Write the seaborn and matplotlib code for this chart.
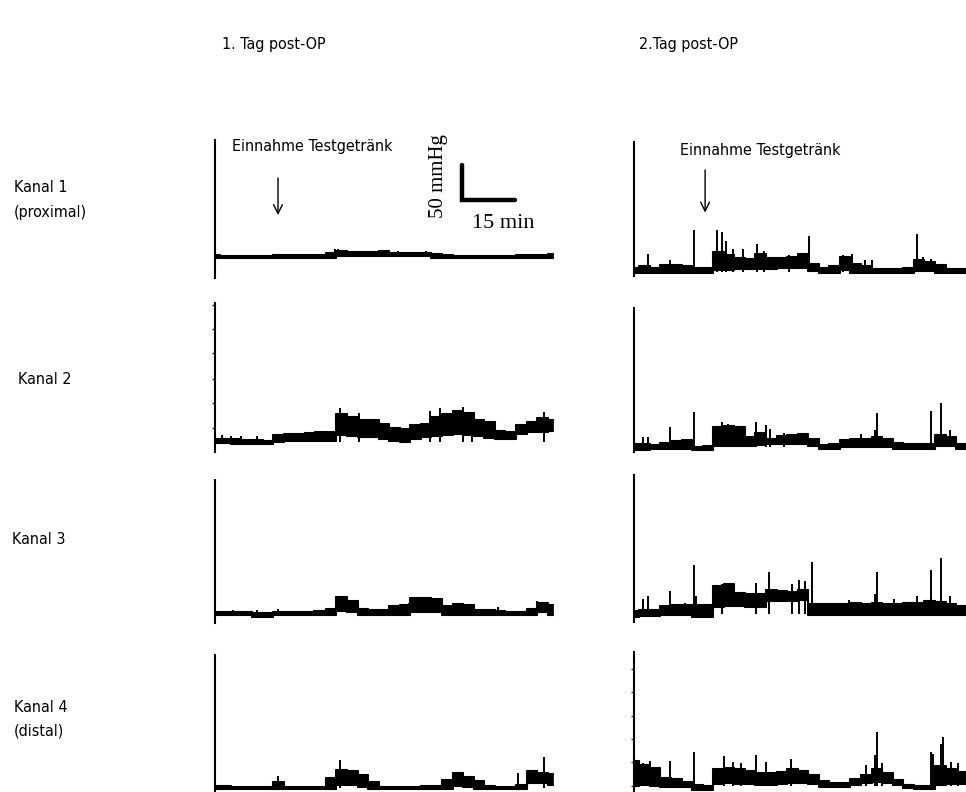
import numpy as np
import pandas as pd
import seaborn as sns
import matplotlib.pyplot as plt
from matplotlib import font_manager

# ---- data (mmHg above baseline; time in minutes) ----
t = list(range(0, 97, 3))

k1_d1_hi = [3, 2, 2, 2, 2, 2, 3, 3, 3, 3, 3, 6, 8, 7, 7, 7, 8, 6, 6, 6, 6, 5, 3, 2, 2, 2, 2, 2, 2, 3, 3, 3, 4]
k1_d1_lo = [-1, -1, -1, -1, -1, -1, -1, -1, -1, -1, -1, -1, 1, 1, 1, 1, 1, 1, 1, 1, 1, -1, -1, -1, -1, -1, -1, -1, -1, -1, -1, -1, -1]
k1_d1_sp = [(34.2, 11), (35.0, 11), (52, 9), (60, 8)]

k1_d2_hi = [6, 8, 6, 10, 10, 8, 6, 6, 28, 25, 20, 18, 26, 20, 20, 22, 26, 12, 6, 8, 22, 12, 8, 5, 5, 5, 6, 17, 15, 10, 5, 5, 5]
k1_d2_lo = [-2, -2, -2, -2, -2, -2, -2, -2, 3, 3, 4, 4, 5, 5, 6, 6, 6, 2, -2, -2, 3, -2, -2, -2, -2, -2, -2, 1, 1, -2, -2, -2, -2]
k1_d2_sp = [(4.1, 26), (10.2, 17), (17.0, 60), (23.5, 60), (24.9, 57), (26, 45), (28.2, 33), (31.0, 33),
            (34.9, 40), (37, 30), (44, 25), (49.7, 52), (59.5, 24), (62, 26), (65.5, 17), (67.5, 17),
            (80.3, 55), (82, 22), (84.5, 18)]

k2_d1_hi = [5, 4, 4, 3, 3, 2, 10, 12, 12, 13, 14, 14, 40, 36, 32, 32, 26, 20, 18, 24, 26, 36, 40, 44, 42, 32, 28, 16, 14, 24, 28, 34, 32]
k2_d1_lo = [-2, -2, -3, -3, -3, -3, 0, 1, 1, 1, 2, 2, 10, 8, 7, 7, 4, 2, 0, 5, 7, 8, 10, 12, 10, 8, 6, 4, 4, 12, 14, 14, 16]
k2_d1_sp = [(2, 10), (4.5, 9), (7.5, 9), (12, 8), (35.5, 48), (41, 42), (61, 44), (64, 48), (70.5, 50), (73, 42), (93.5, 43)]

k2_d2_hi = [4, 4, 3, 6, 8, 10, 0, 2, 28, 30, 28, 14, 20, 12, 16, 17, 18, 12, 3, 4, 10, 12, 12, 14, 12, 6, 4, 4, 5, 17, 15, 5, 4]
k2_d2_lo = [-4, -4, -3, -3, -3, -3, -5, -4, 2, 2, 2, 2, 3, 4, 5, 5, 5, 2, -3, -3, 0, 0, 0, 0, 0, -3, -3, -3, -3, 1, 1, -3, -3]
k2_d2_sp = [(2.5, 14), (4.1, 14), (10.2, 29), (17.0, 50), (23.5, 28), (24.9, 36), (26.8, 33), (29, 29), (30.5, 26),
            (34.7, 36), (37.5, 31), (38.5, 26), (42.5, 20), (64.5, 19), (68.4, 24), (68.9, 49), (84.3, 51),
            (87.1, 63), (89.9, 24)]

k3_d1_hi = [2, 2, 2, 2, 0, 0, 2, 2, 2, 2, 3, 6, 23, 17, 6, 4, 4, 10, 12, 21, 22, 20, 10, 13, 12, 5, 4, 3, 2, 2, 6, 15, 12]
k3_d1_lo = [-3, -3, -3, -3, -6, -6, -3, -3, -3, -3, -3, -3, 3, 1, -3, -3, -3, -3, -3, 2, 2, 2, -3, -3, -3, -3, -3, -3, -3, -3, -3, 2, -3]
k3_d1_sp = [(5, 5), (12, 4), (18, 6), (28, 4), (37.5, 23), (55, 14), (80.5, 8), (91.5, 17), (94, 15)]

k3_d2_hi = [5, 6, 6, 12, 13, 13, 13, 13, 40, 43, 30, 28, 28, 34, 33, 32, 34, 15, 14, 15, 15, 16, 15, 16, 14, 15, 16, 16, 18, 17, 14, 12, 12]
k3_d2_lo = [-4, -3, -3, -2, -2, -2, -4, -4, 10, 12, 12, 10, 10, 18, 18, 18, 20, -1, -1, -1, -1, -1, -1, -1, -1, -1, -1, -1, -1, -1, -1, -1, -1]
k3_d2_sp = [(2.5, 21), (4.1, 26), (10.2, 33), (14.5, 16), (17.0, 70), (17.5, 26), (25, 43), (34.7, 45), (38.3, 60),
            (45, 43), (47, 49), (48.5, 47), (50.5, 75), (61, 20), (68.4, 28), (68.9, 60), (74, 21), (80.3, 26),
            (84.3, 63), (87.1, 80), (89.9, 26)]

k4_d1_hi = [3, 3, 2, 1, 1, 1, 8, 2, 2, 2, 2, 14, 26, 24, 18, 8, 2, 2, 2, 2, 3, 3, 12, 21, 16, 10, 3, 2, 2, 4, 24, 22, 20]
k4_d1_lo = [-2, -2, -2, -2, -2, -2, -2, -2, -2, -2, -2, -2, 5, 5, 2, -2, -2, -2, -2, -2, -2, -2, -2, 3, 2, -2, -2, -2, -2, -2, 7, 7, 5]
k4_d1_sp = [(18.0, 17), (35.5, 40), (86, 21), (93.5, 44)]

k4_d2_hi = [36, 30, 26, 12, 10, 6, 2, 0, 24, 26, 24, 22, 19, 19, 20, 24, 22, 16, 7, 4, 4, 10, 16, 24, 18, 8, 2, 0, 0, 28, 24, 20, 22]
k4_d2_lo = [0, 2, 0, -1, -2, -2, -6, -6, 3, 4, 3, 3, 2, 2, 3, 5, 4, 3, -1, -2, -1, 1, 4, 6, 4, 1, -3, -4, -4, 2, 3, 3, 3]
k4_d2_sp = [(2.5, 33), (4.5, 36), (10.2, 36), (17.0, 49), (25.5, 43), (28, 35), (30.5, 33), (34.7, 44), (37.5, 34),
            (44.6, 39), (66, 30), (68.4, 44), (68.9, 77), (70.5, 33), (84.3, 49), (85, 46), (87.1, 60), (87.7, 70),
            (90, 34), (92, 33)]

days = ["1. Tag post-OP", "2.Tag post-OP"]
channels = [["Kanal 1", "(proximal)"], ["Kanal 2"], ["Kanal 3"], ["Kanal 4", "(distal)"]]
marker_text = "Einnahme Testgetränk"

# ---- layout ----
W, H = 966, 792
sns.set_style("white")
plt.rcParams['font.family'] = ['DejaVu Sans']
plt.rcParams['text.color'] = 'black'
fig = plt.figure(figsize=(W / 100, H / 100), dpi=100)

# narrow label font if one is around
narrow = None
for f in font_manager.fontManager.ttflist:
    if "Condensed" in f.fname and "DejaVuSans" in f.fname and "Bold" not in f.fname and "Oblique" not in f.fname:
        narrow = f.fname
        break
if narrow:
    label_kw = dict(fontproperties=font_manager.FontProperties(fname=narrow, size=11.5))
else:
    label_kw = dict(fontsize=10.5, fontstretch="condensed")

PX = 1.43  # mmHg per pixel
COL_X = [215, 634]
AX_W = 342

# (top, bottom, baseline) in pixels for each panel
geom = [
    [(140, 278, 257), (142, 276, 272)],
    [(303, 452, 442), (308, 452, 447)],
    [(480, 623, 613), (475, 622, 614)],
    [(655, 792, 788), (652, 792, 786)],
]
traces = [
    [(k1_d1_hi, k1_d1_lo, k1_d1_sp), (k1_d2_hi, k1_d2_lo, k1_d2_sp)],
    [(k2_d1_hi, k2_d1_lo, k2_d1_sp), (k2_d2_hi, k2_d2_lo, k2_d2_sp)],
    [(k3_d1_hi, k3_d1_lo, k3_d1_sp), (k3_d2_hi, k3_d2_lo, k3_d2_sp)],
    [(k4_d1_hi, k4_d1_lo, k4_d1_sp), (k4_d2_hi, k4_d2_lo, k4_d2_sp)],
]
tick_rows = {(1, 0): [20, 56, 90, 127, 162, 196], (3, 1): [0, 34, 67, 100, 134, 167]}

axes = {}
for r in range(4):
    for c in range(2):
        top, bot, base = geom[r][c]
        ax = fig.add_axes([COL_X[c] / W, 1 - bot / H, AX_W / W, (bot - top) / H])
        ax.set_xlim(0, AX_W / 3.52)
        ax.set_ylim(-(bot - base) * PX, (base - top) * PX)
        hi, lo, sp = traces[r][c]
        df = pd.DataFrame({"t": t, "hi": hi, "lo": lo})
        ax.fill_between(df.t, df.lo, df.hi, step="mid", color="black", lw=1.2, clip_on=False)
        sns.lineplot(data=df, x="t", y="hi", ax=ax, color="black", lw=1.5, drawstyle="steps-mid")
        sns.lineplot(data=df, x="t", y="lo", ax=ax, color="black", lw=1.5, drawstyle="steps-mid")
        spx = [s[0] for s in sp]
        spy = [s[1] for s in sp]
        ax.vlines(spx, 0, spy, color="black", lw=1.4)
        for s in ["top", "right", "bottom"]:
            ax.spines[s].set_visible(False)
        ax.spines["left"].set_linewidth(1.5)
        ax.spines["left"].set_color("black")
        ax.set_xticks([])
        ax.set_xlabel("")
        ax.set_ylabel("")
        ax.set_yticks(tick_rows.get((r, c), []))
        ax.tick_params(axis="y", direction="out", length=2.5, width=1, labelleft=False, left=True)
        ax.patch.set_alpha(0)
        axes[(r, c)] = ax

# event arrows
for c, (ax_x, y0, y1) in enumerate([(17.9, 117, 56), (20.2, 150, 81)]):
    axes[(0, c)].annotate("", xy=(ax_x, y1), xytext=(ax_x, y0),
                          arrowprops=dict(arrowstyle="->", lw=1, color="black", mutation_scale=16))

# scale bar: 50 mmHg / 15 min
a = axes[(0, 0)]
a.plot([70.2, 70.2, 85.2], [131.5, 81.5, 81.5], color="black", lw=3.2, clip_on=False,
       solid_joinstyle="miter")


def ftext(x, y, s, **kw):
    fig.text(x / W, 1 - y / H, s, va="center", **kw)


ftext(222, 45, days[0], **label_kw)
ftext(639, 45, days[1], **label_kw)
ftext(232, 147, marker_text, **label_kw)
ftext(680, 150, marker_text, **label_kw)

row_y = [(187, 213), (380,), (540,), (707, 731)]
row_x = [14, 18, 12, 14]
for lines, ys, x in zip(channels, row_y, row_x):
    for s, y in zip(lines, ys):
        ftext(x, y, s, **label_kw)

ftext(438, 176, "50 mmHg", fontsize=15, family="Liberation Serif", rotation=90, ha="center")
ftext(472, 223, "15 min", fontsize=16, family="Liberation Serif")

fig.savefig("out.png", dpi=100)
